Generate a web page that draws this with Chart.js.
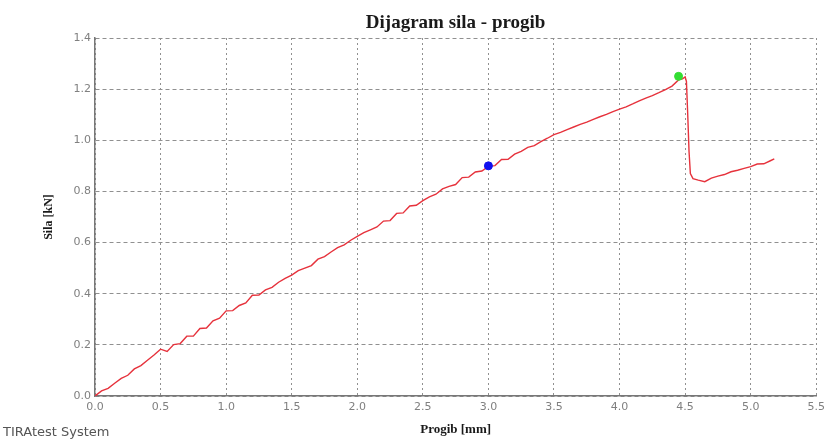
<!DOCTYPE html>
<html>
<head>
<meta charset="utf-8">
<script src="https://cdn.jsdelivr.net/npm/chart.js@4"></script>
<style>
  html, body { margin: 0; padding: 0; background: #fff; }
  #wrap { width: 830px; height: 439px; position: relative; }
</style>
</head>
<body>
<div id="wrap"><canvas id="myChart"></canvas></div>
<script>
// deflection [mm] / force [kN]
const progib = [
  0.00, 0.05, 0.10, 0.15, 0.20, 0.25, 0.30, 0.35, 0.40, 0.45,
  0.50, 0.55, 0.60, 0.65, 0.70, 0.75, 0.80, 0.85, 0.90, 0.95,
  1.00, 1.05, 1.10, 1.15, 1.20, 1.25, 1.30, 1.35, 1.40, 1.45,
  1.50, 1.55, 1.60, 1.65, 1.70, 1.75, 1.80, 1.85, 1.90, 1.95,
  2.00, 2.05, 2.10, 2.15, 2.20, 2.25, 2.30, 2.35, 2.40, 2.45,
  2.50, 2.55, 2.60, 2.65, 2.70, 2.75, 2.80, 2.85, 2.90, 2.95,
  3.00, 3.05, 3.10, 3.15, 3.20, 3.25, 3.30, 3.35, 3.40, 3.45,
  3.50, 3.55, 3.60, 3.65, 3.70, 3.75, 3.80, 3.85, 3.90, 3.95,
  4.00, 4.05, 4.10, 4.15, 4.20, 4.25, 4.30, 4.35, 4.40, 4.45,
  4.48, 4.50, 4.51, 4.52, 4.53, 4.54, 4.56, 4.60, 4.65, 4.70,
  4.75, 4.80, 4.85, 4.90, 4.95, 5.00, 5.05, 5.10, 5.15, 5.18
];
const sila = [
  0.000, 0.020, 0.030, 0.050, 0.069, 0.081, 0.106, 0.119, 0.140, 0.160,
  0.183, 0.174, 0.201, 0.205, 0.234, 0.234, 0.264, 0.266, 0.294, 0.304,
  0.333, 0.334, 0.354, 0.364, 0.394, 0.395, 0.415, 0.425, 0.445, 0.460,
  0.473, 0.490, 0.500, 0.510, 0.535, 0.545, 0.563, 0.580, 0.591, 0.609,
  0.624, 0.639, 0.650, 0.661, 0.684, 0.686, 0.714, 0.716, 0.743, 0.746,
  0.764, 0.779, 0.789, 0.810, 0.820, 0.827, 0.854, 0.856, 0.876, 0.880,
  0.898, 0.901, 0.925, 0.926, 0.946, 0.957, 0.972, 0.979, 0.995, 1.008,
  1.022, 1.031, 1.042, 1.052, 1.062, 1.071, 1.082, 1.092, 1.101, 1.112,
  1.122, 1.131, 1.142, 1.154, 1.165, 1.175, 1.186, 1.198, 1.212, 1.236,
  1.240, 1.248, 1.230, 1.100, 0.955, 0.870, 0.850, 0.844, 0.838, 0.852,
  0.860, 0.866, 0.877, 0.883, 0.890, 0.897, 0.907, 0.908, 0.920, 0.927
];
const markerX = [3.00, 4.45];
const markerY = [0.900, 1.250];
const markerColors = ['#1010ee', '#33dd33'];

const xTickStep = 0.5;
const yTickStep = 0.2;

const ct = document.getElementById('myChart');

const extraText = {
  id: 'extraText',
  afterDraw(chart) {
    const c = chart.ctx;
    const a = chart.chartArea;
    c.save();
    c.fillStyle = '#1a1a1a';
    c.font = 'bold 19px "Liberation Serif"';
    c.textAlign = 'center';
    c.textBaseline = 'alphabetic';
    c.fillText('Dijagram sila - progib', (a.left + a.right) / 2, 28);
    c.fillStyle = '#555';
    c.font = '13px "DejaVu Sans"';
    c.textAlign = 'left';
    c.fillText('TIRAtest System', 3, 436);
    c.restore();
  }
};

new Chart(ct, {
  type: 'scatter',
  data: {
    datasets: [{
      label: 'markers',
      data: markerX.map((x, i) => ({x: x, y: markerY[i]})),
      pointBackgroundColor: markerColors,
      pointBorderColor: markerColors,
      pointRadius: 4,
      showLine: false
    }, {
      label: 'sila',
      data: progib.map((x, i) => ({x: x, y: sila[i]})),
      showLine: true,
      borderColor: '#e6323c',
      borderWidth: 1.4,
      pointRadius: 0,
      tension: 0
    }]
  },
  plugins: [extraText],
  options: {
    responsive: true,
    maintainAspectRatio: false,
    animation: false,
    devicePixelRatio: 1,
    layout: { padding: { left: 4, right: 11, top: 38, bottom: 0 } },
    plugins: {
      legend: { display: false },
      tooltip: { enabled: false }
    },
    scales: {
      x: {
        type: 'linear',
        min: 0,
        max: 5.5,
        afterFit: s => { s.height = 43; },
        ticks: {
          stepSize: xTickStep,
          padding: 5,
          color: '#808080',
          font: { family: 'DejaVu Sans', size: 11 },
          callback: v => v.toFixed(1)
        },
        grid: { color: '#909090', lineWidth: 1, drawTicks: false },
        border: { display: true, color: '#777', width: 1.5, dash: [2, 3] },
        title: {
          display: true,
          text: 'Progib [mm]',
          color: '#1a1a1a',
          font: { family: 'Liberation Serif', size: 13, weight: 'bold' },
          padding: { top: 0, bottom: 2 }
        }
      },
      y: {
        min: 0,
        max: 1.4,
        afterFit: s => { s.width = 91; },
        ticks: {
          stepSize: yTickStep,
          padding: 4,
          color: '#808080',
          font: { family: 'DejaVu Sans', size: 11 },
          callback: v => v.toFixed(1)
        },
        grid: { color: '#909090', lineWidth: 1, drawTicks: false },
        border: { display: true, color: '#777', width: 1.5, dash: [4, 3] },
        title: {
          display: true,
          text: 'Sila [kN]',
          color: '#1a1a1a',
          font: { family: 'Liberation Serif', size: 12, weight: 'bold' },
          padding: { top: 38, bottom: 0 }
        }
      }
    }
  }
});
</script>
</body>
</html>
